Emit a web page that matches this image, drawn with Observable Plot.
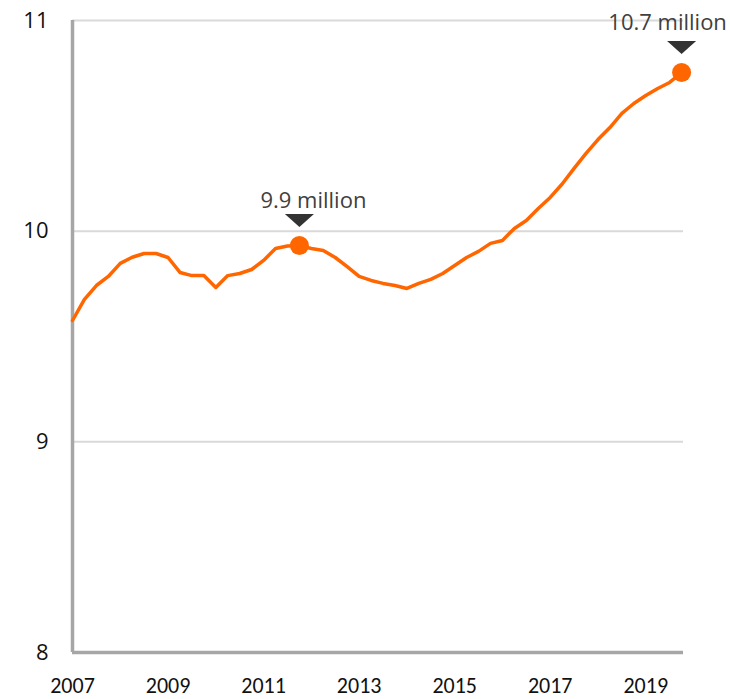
<!DOCTYPE html>
<html>
<head>
<meta charset="utf-8">
<script src="https://cdn.jsdelivr.net/npm/d3@7"></script>
<script src="https://cdn.jsdelivr.net/npm/@observablehq/plot@0.6"></script>
<style>
  html, body { margin: 0; padding: 0; background: #fff; }
  #chart svg { display: block; }
</style>
</head>
<body>
<div id="chart"></div>
<script>
// Quarterly periods
const periods = [
  "2007Q1","2007Q2","2007Q3","2007Q4",
  "2008Q1","2008Q2","2008Q3","2008Q4",
  "2009Q1","2009Q2","2009Q3","2009Q4",
  "2010Q1","2010Q2","2010Q3","2010Q4",
  "2011Q1","2011Q2","2011Q3","2011Q4",
  "2012Q1","2012Q2","2012Q3","2012Q4",
  "2013Q1","2013Q2","2013Q3","2013Q4",
  "2014Q1","2014Q2","2014Q3","2014Q4",
  "2015Q1","2015Q2","2015Q3","2015Q4",
  "2016Q1","2016Q2","2016Q3","2016Q4",
  "2017Q1","2017Q2","2017Q3","2017Q4",
  "2018Q1","2018Q2","2018Q3","2018Q4",
  "2019Q1","2019Q2","2019Q3","2019Q4"
];
// Values (millions)
const values = [
  9.576, 9.676, 9.742, 9.785,
  9.847, 9.876, 9.894, 9.894,
  9.875, 9.804, 9.789, 9.789,
  9.733, 9.789, 9.799, 9.818,
  9.861, 9.918, 9.930, 9.932,
  9.918, 9.908, 9.875, 9.832,
  9.785, 9.766, 9.752, 9.742,
  9.728, 9.752, 9.771, 9.799,
  9.837, 9.875, 9.904, 9.942,
  9.956, 10.013, 10.051, 10.108,
  10.160, 10.224, 10.298, 10.369,
  10.435, 10.492, 10.559, 10.606,
  10.644, 10.677, 10.706, 10.753
];
// Annotations
const annoPeriods = ["2011Q4", "2019Q4"];
const annoValues = [9.932, 10.753];
const annoLabels = ["9.9 million", "10.7 million"];
// Tick labels
const xTicks = [2007, 2009, 2011, 2013, 2015, 2017, 2019];
const yTicks = [8, 9, 10, 11];
const gridTicks = [9, 10, 11];

const toYear = p => +p.slice(0, 4) + (+p.slice(5) - 1) / 4;
const series = periods.map((p, i) => ({t: toYear(p), v: values[i]}));
const anno = annoPeriods.map((p, i) => ({t: toYear(p), v: annoValues[i], label: annoLabels[i]}));

const downTriangle = {
  draw(context) {
    context.moveTo(-14.5, -6.5);
    context.lineTo(14.5, -6.5);
    context.lineTo(0, 6.5);
    context.closePath();
  }
};

const orange = "#ff6600";
const axisFont = "Open Sans, sans-serif";

const chart = Plot.plot({
  width: 730,
  height: 699,
  marginLeft: 72,
  marginRight: 47,
  marginTop: 20,
  marginBottom: 47,
  style: {background: "#fff", overflow: "visible"},
  x: {domain: [2007, 2019.79]},
  y: {domain: [8, 11]},
  marks: [
    Plot.ruleY(gridTicks, {stroke: "#d9d9d9", strokeWidth: 2}),
    Plot.ruleY([8], {stroke: "#a6a6a6", strokeWidth: 3.5}),
    Plot.ruleX([2007], {stroke: "#a6a6a6", strokeWidth: 3.5}),
    Plot.axisX({
      ticks: xTicks, tickFormat: d => String(d), tickSize: 0, tickPadding: 25,
      label: null, fontSize: 22, fontFamily: "Carlito, Roboto, sans-serif", fontWeight: 400, fill: "#111"
    }),
    Plot.axisY({
      ticks: yTicks, tickFormat: d => String(d), tickSize: 0, tickPadding: 24,
      label: null, fontSize: 22, fontFamily: axisFont, fill: "#111"
    }),
    Plot.line(series, {x: "t", y: "v", stroke: orange, strokeWidth: 3.5, strokeLinejoin: "round"}),
    Plot.dot(anno, {x: "t", y: "v", r: 9.5, fill: orange, stroke: null}),
    Plot.dot(anno, {x: "t", y: "v", symbol: downTriangle, r: 10, fill: "#333", stroke: null, dy: -25}),
    Plot.text(anno.slice(0, 1), {
      x: "t", y: "v", text: "label", dx: 14, dy: -45,
      fontSize: 22, fontFamily: axisFont, fill: "#404040", textAnchor: "middle"
    }),
    Plot.text(anno.slice(1), {
      x: "t", y: "v", text: "label", dx: -14, dy: -50,
      fontSize: 22, fontFamily: axisFont, fill: "#404040", textAnchor: "middle"
    })
  ]
});

document.getElementById("chart").appendChild(chart);
</script>
</body>
</html>
